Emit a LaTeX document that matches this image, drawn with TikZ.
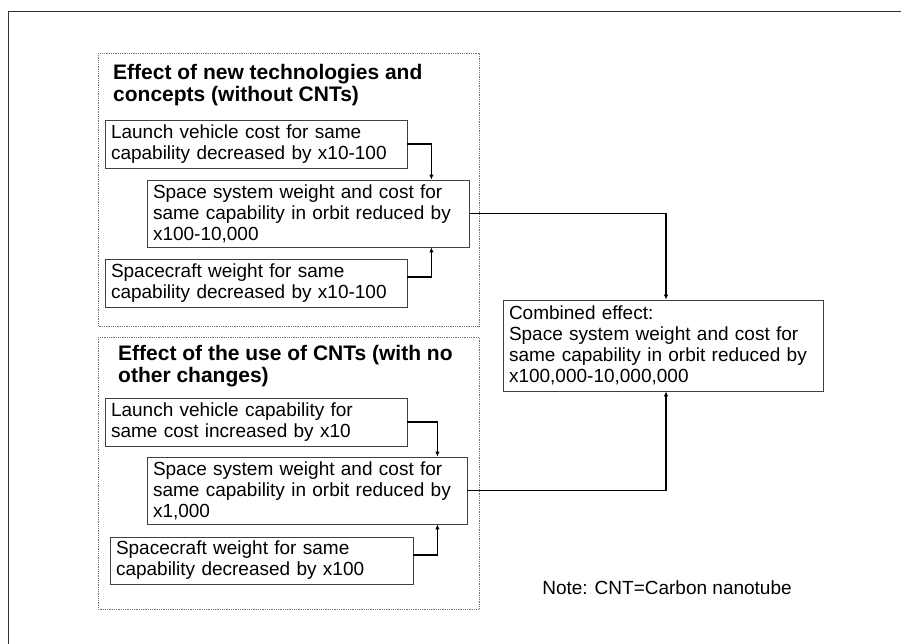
\documentclass[tikz,border=0pt]{standalone}
\usepackage{fontspec}
\setmainfont{Liberation Sans}
\usetikzlibrary{arrows.meta}

\tikzset{
  effbox/.style={draw=black!75, line width=0.8pt, rectangle, align=left,
    inner xsep=6pt, inner ysep=2pt, font=\fontsize{19}{21}\selectfont},
  grpframe/.style={draw=black!55, densely dotted, line width=0.8pt},
  grptitle/.style={anchor=north west, align=left, inner sep=0pt,
    font=\bfseries\fontsize{21}{22}\selectfont},
  link/.style={line width=1.4pt, -{Latex[length=5pt,width=4.5pt]}},
}

\begin{document}
\begin{tikzpicture}[x=1pt,y=-1pt]
\useasboundingbox (0,0) rectangle (901,644);

% Outer frame (top and left edges only)
\draw[line width=1.8pt, black!80] (901,11.5) -- (8.5,11.5) -- (8.5,644);

% Group frames
\draw[grpframe] (98,53) rectangle (479,326);
\draw[grpframe] (98,337) rectangle (479,609);

% Group titles
\node[grptitle] (ttlnew) at (113,64) {Effect of new technologies and\\concepts (without CNTs)};
\node[grptitle] (ttlcnt) at (118,345) {Effect of the use of CNTs (with no\\other changes)};

% Without CNTs
\node[effbox, text width=290pt, minimum height=48pt] (lvcost) at (256,144)
  {Launch vehicle cost for same\\capability decreased by x10-100};
\node[effbox, text width=310.5pt, minimum height=67pt] (sysnew) at (308.25,213.5)
  {Space system weight and cost for\\same capability in orbit reduced by\\x100-10,000};
\node[effbox, text width=290pt, minimum height=48pt] (scnew) at (256,283)
  {Spacecraft weight for same\\capability decreased by x10-100};

% With CNTs
\node[effbox, text width=290pt, minimum height=48pt] (lvcap) at (256,422)
  {Launch vehicle capability for\\same cost increased by x10};
\node[effbox, text width=308pt, minimum height=67pt] (syscnt) at (307,490.5)
  {Space system weight and cost for\\same capability in orbit reduced by\\x1,000};
\node[effbox, text width=291pt, minimum height=47pt] (sccnt) at (261.5,560.5)
  {Spacecraft weight for same\\capability decreased by x100};

% Combined effect
\node[effbox, text width=308pt, minimum height=91pt] (comb) at (663,345.5)
  {Combined effect:\\Space system weight and cost for\\same capability in orbit reduced by\\x100,000-10,000,000};

% Note
\node[font=\fontsize{19}{21}\selectfont] (note) at (667,588) {Note: CNT=Carbon nanotube};

% Connectors
\draw[link] (lvcost.east) -| ([xshift=-38.5pt]sysnew.north east);
\draw[link] ([yshift=6pt]scnew.east) -| ([xshift=-38.5pt]sysnew.south east);
\draw[link] (lvcap.east) -| ([xshift=-30pt]syscnt.north east);
\draw[link] ([yshift=5.5pt]sccnt.east) -| ([xshift=-30pt]syscnt.south east);
\draw[link] (sysnew.east) -| ([xshift=3pt]comb.north);
\draw[link] (syscnt.east) -| ([xshift=3pt]comb.south);
\end{tikzpicture}
\end{document}
